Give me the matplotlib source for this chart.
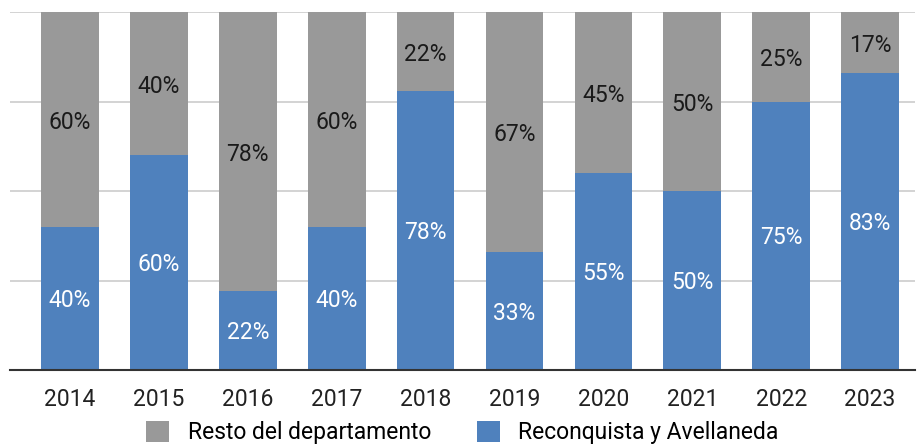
import matplotlib.pyplot as plt
import numpy as np

plt.rcParams['font.family'] = ['Roboto', 'DejaVu Sans']

years = ['2014', '2015', '2016', '2017', '2018', '2019', '2020', '2021', '2022', '2023']
reconquista = [40, 60, 22, 40, 78, 33, 55, 50, 75, 83]
resto = [60, 40, 78, 60, 22, 67, 45, 50, 25, 17]

blue = '#4f81bd'
gray = '#999999'

fig = plt.figure(figsize=(9.17, 4.47), dpi=100)
ax = fig.add_axes([10 / 917, 77 / 447, 905 / 917, 358 / 447])

x = np.arange(len(years))
w = 0.65
b1 = ax.bar(x, reconquista, w, color=blue, label='Reconquista y Avellaneda', zorder=2)
b2 = ax.bar(x, resto, w, bottom=reconquista, color=gray, label='Resto del departamento', zorder=2)

# data labels in the middle of each segment
for i in range(len(years)):
    ax.text(x[i], reconquista[i] / 2 - 0.6, f'{reconquista[i]}%', ha='center', va='center',
            color='white', fontsize=16.5)
    ax.text(x[i], reconquista[i] + resto[i] / 2 - 0.8, f'{resto[i]}%', ha='center', va='center',
            color='#1a1a1a', fontsize=16.5)

ax.set_xlim(-0.675, 9.505)
ax.set_ylim(0, 100)
ax.set_yticks([25, 50, 75, 100])
ax.yaxis.grid(True, color='#cccccc', linewidth=1.2, zorder=0)
ax.tick_params(axis='y', left=False, labelleft=False)
ax.set_xticks(x)
ax.set_xticklabels(years, fontsize=16.5, color='#222222')
ax.tick_params(axis='x', length=0, pad=13)

for s in ['top', 'right', 'left']:
    ax.spines[s].set_visible(False)
ax.spines['bottom'].set_color('#333333')
ax.spines['bottom'].set_linewidth(1.5)
ax.spines['bottom'].set_zorder(3)

ax.legend(handles=[b2, b1], loc='center', bbox_to_anchor=(0.5, -0.175), ncol=2,
          frameon=False, fontsize=16.5, handlelength=1.0, handleheight=1.0,
          columnspacing=2.0, handletextpad=0.8, borderaxespad=0)

fig.savefig('out.png', dpi=100)
